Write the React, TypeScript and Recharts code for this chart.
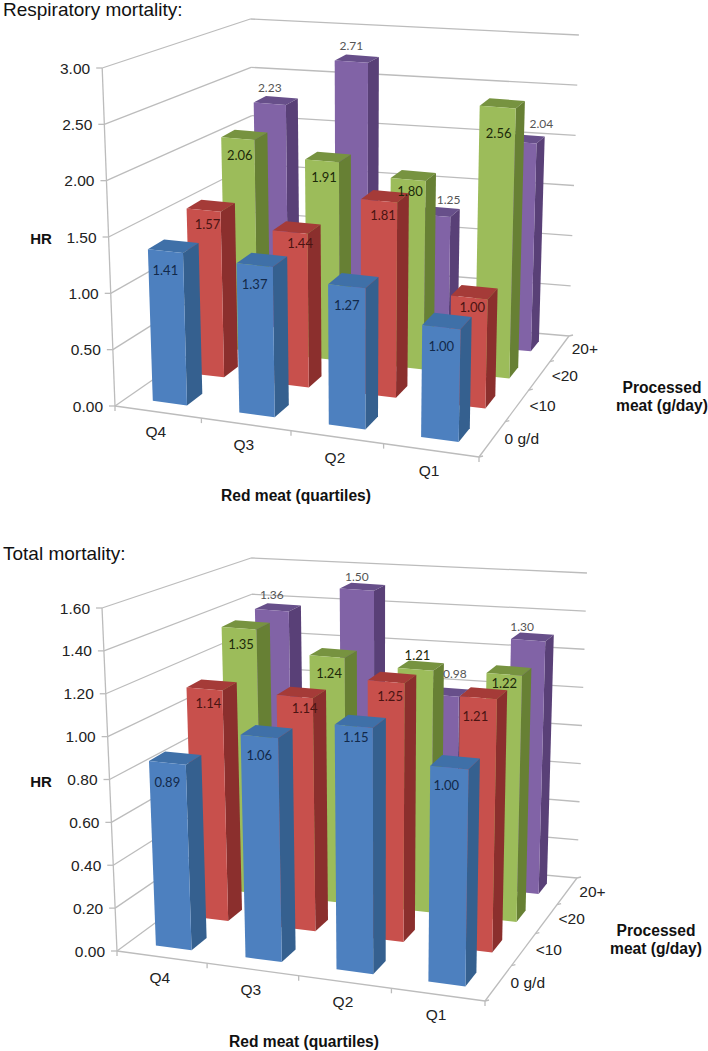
// Two pseudo-3D bar charts (HR by red and processed meat). Recharts supplies the scales,
// the Box shape then pushes each bar through a box projection to get the Excel-style look.
import { BarChart, Bar, XAxis, YAxis, Customized } from 'recharts'

type Pt = [number, number]

const FONT = '"Liberation Sans", Arial, sans-serif'
const LABEL_FONT = 'Lato, "Open Sans", sans-serif'
const WIDTH = 708
const BAR_U = 0.1
const BAR_V = 0.1
const GRID = '#bcbcbc'

const QUARTILES = ['Q4', 'Q3', 'Q2', 'Q1']
const PROCESSED = ['0 g/d', '<10', '<20', '20+']

const RESP_0 = [1.41, 1.37, 1.27, 1.0]
const RESP_10 = [1.57, 1.44, 1.81, 1.0]
const RESP_20 = [2.06, 1.91, 1.8, 2.56]
const RESP_20P = [2.23, 2.71, 1.25, 2.04]
const RESP_TICKS = [0, 0.5, 1, 1.5, 2, 2.5, 3]

const TOTAL_0 = [0.89, 1.06, 1.15, 1.0]
const TOTAL_10 = [1.14, 1.14, 1.25, 1.21]
const TOTAL_20 = [1.35, 1.24, 1.21, 1.22]
const TOTAL_20P = [1.36, 1.5, 0.98, 1.3]
const TOTAL_TICKS = [0, 0.2, 0.4, 0.6, 0.8, 1, 1.2, 1.4, 1.6]

// front, side, top, label colour per processed meat level
const SERIES_COLORS = [
  ['#4d80bf', '#35608f', '#3f70a8', '#12294a'],
  ['#c8504c', '#8b2f2d', '#a53b38', '#4a1412'],
  ['#9cbc5a', '#678034', '#779340', '#1d2a0a'],
  ['#8163a6', '#594077', '#674f8a', '#555555'],
]
const LABEL_OFFSET: Pt[] = [[0, 19], [4, 14], [2, 16], [0, -16]]

// maps the unit square onto a quad (front-left, front-right, back-right, back-left)
function quadMap(q: Pt[]) {
  const [[x0, y0], [x1, y1], [x2, y2], [x3, y3]] = q
  const dx1 = x1 - x2
  const dx2 = x3 - x2
  const dx3 = x0 - x1 + x2 - x3
  const dy1 = y1 - y2
  const dy2 = y3 - y2
  const dy3 = y0 - y1 + y2 - y3
  const det = dx1 * dy2 - dx2 * dy1
  const g = (dx3 * dy2 - dx2 * dy3) / det
  const h = (dx1 * dy3 - dx3 * dy1) / det
  const a = x1 - x0 + g * x1
  const b = x3 - x0 + h * x3
  const d = y1 - y0 + g * y1
  const e = y3 - y0 + h * y3
  return (u: number, v: number): Pt => {
    const k = g * u + h * v + 1
    return [(a * u + b * v + x0) / k, (d * u + e * v + y0) / k]
  }
}

// floor point + height, verticals lean towards a vanishing point below the chart
function makeProjection(floor: Pt[], heights: number[], leanX: number, lean: number, top: number) {
  const f = quadMap(floor.map(([x, y]) => [x, y - top] as Pt))
  const [fl, fr, br, bl] = heights
  return (u: number, v: number, w: number): Pt => {
    // the pure homography squeezes the left side too much, ease it a bit
    const [x, y] = f(u + 0.1 * u * (1 - u), v)
    const h = w * ((fl * (1 - u) + fr * u) * (1 - v) + (bl * (1 - u) + br * u) * v)
    return [x + (x - leanX) * lean * h, y - h]
  }
}

const poly = (pts: Pt[]) => pts.map((p) => p[0].toFixed(1) + ',' + p[1].toFixed(1)).join(' ')

interface PanelProps {
  title: string
  top: number
  height: number
  max: number
  ticks: number[]
  series: number[][]
  floor: Pt[]
  heights: number[]
  barHeights: number[]
  leanX: number
  lean: number
  titleY: number
  hrY: number
  xTitle: Pt
  zTitle: Pt
  nudge: Record<string, Pt>
}

function Panel(props: PanelProps) {
  const { title, top, height, max, ticks, series, floor, heights, barHeights, leanX, lean, nudge } = props
  const project = makeProjection(floor, heights, leanX, lean, top)
  const projectBar = makeProjection(floor, barHeights, leanX, lean, top)
  const rows = QUARTILES.map((q, i) => ({ q, s0: series[0][i], s1: series[1][i], s2: series[2][i], s3: series[3][i] }))

  // the axes take 1px each, otherwise recharts will not draw their ticks
  const toU = (x: number) => (x - 1) / (WIDTH - 1)
  const toW = (y: number) => 1 - y / (height - 1)
  const barPx = (WIDTH - 1) * BAR_U

  const Box = (p: any, s: number) => {
    const u0 = toU(p.x)
    const u1 = toU(p.x + p.width)
    const w = toW(p.y)
    const v0 = 0.075 + 0.25 * s
    const v1 = v0 + BAR_V
    const [front, side, cap] = SERIES_COLORS[s]
    const P = projectBar
    return (
      <g>
        <polygon points={poly([P(u0, v0, w), P(u1, v0, w), P(u1, v1, w), P(u0, v1, w)])} fill={cap} />
        <polygon points={poly([P(u1, v0, 0), P(u1, v1, 0), P(u1, v1, w), P(u1, v0, w)])} fill={side} />
        <polygon points={poly([P(u0, v0, 0), P(u1, v0, 0), P(u1, v0, w), P(u0, v0, w)])} fill={front} />
      </g>
    )
  }

  const ValueLabel = (p: any, s: number) => {
    const v0 = 0.075 + 0.25 * s
    const [x, y] = projectBar(toU(p.x + p.width / 2), v0, toW(p.y))
    const off = nudge[p.payload.q + '-' + s] || LABEL_OFFSET[s]
    return (
      <text x={x + off[0]} y={y + off[1]} textAnchor="middle" dominantBaseline="central"
        fontFamily={LABEL_FONT} fontSize={s === 3 ? 12 : 13} fill={SERIES_COLORS[s][3]}>
        {Number(p.value).toFixed(2)}
      </text>
    )
  }

  const YTick = (p: any) => {
    const [x, y] = project(0, 0, toW(p.y))
    return (
      <g>
        <line x1={x - 6} y1={y} x2={x} y2={y} stroke={GRID} strokeWidth={1.3} />
        <text x={x - 12} y={y} textAnchor="end" dominantBaseline="central" fontFamily={FONT} fontSize={15.5} fill="#222">
          {Number(p.payload.value).toFixed(2)}
        </text>
      </g>
    )
  }

  const XTick = (p: any) => {
    const [x, y] = project(toU(p.x), 0, 0)
    return (
      <text x={x - 2} y={y + 20} textAnchor="middle" dominantBaseline="central" fontFamily={FONT} fontSize={15.5} fill="#222">
        {p.payload.value}
      </text>
    )
  }

  const Walls = () => {
    const seg = (a: Pt, b: Pt, key: string) => (
      <line key={key} x1={a[0]} y1={a[1]} x2={b[0]} y2={b[1]} stroke={GRID} strokeWidth={1.3} />
    )
    return (
      <g>
        {ticks.map((t) => {
          const w = t / max
          return (
            <g key={t}>
              {seg(project(0, 0, w), project(0, 1, w), 'l')}
              {seg(project(0, 1, w), project(1, 1, w), 'b')}
            </g>
          )
        })}
        {seg(project(0, 0, 0), project(0, 0, 1), 'axis')}
        {seg(project(0, 0, 0), project(1, 0, 0), 'front')}
        {seg(project(1, 0, 0), project(1, 1, 0), 'right')}
        {[0, 0.25, 0.5, 0.75, 1].map((u) => {
          const a = project(u, 0, 0)
          return seg(a, [a[0], a[1] + 5], 'xt' + u)
        })}
        {[0, 0.25, 0.5, 0.75, 1].map((v) => {
          const a = project(1, v, 0)
          return seg(a, [a[0] + 4, a[1] - 1], 'zt' + v)
        })}
      </g>
    )
  }

  const Texts = () => (
    <g fill="#111" fontFamily={FONT}>
      <text x={3} y={props.titleY} fontSize={19}>{title}</text>
      <text x={41} y={props.hrY} fontSize={15} fontWeight="bold" textAnchor="middle" dominantBaseline="central">HR</text>
      <text x={props.xTitle[0]} y={props.xTitle[1]} fontSize={15.6} fontWeight="bold" textAnchor="middle" dominantBaseline="central">
        Red meat (quartiles)
      </text>
      <text x={props.zTitle[0]} y={props.zTitle[1]} fontSize={15.6} fontWeight="bold" textAnchor="middle" dominantBaseline="central">
        Processed
      </text>
      <text x={props.zTitle[0]} y={props.zTitle[1] + 18} fontSize={15.6} fontWeight="bold" textAnchor="middle" dominantBaseline="central">
        meat (g/day)
      </text>
      {PROCESSED.map((label, i) => {
        const [x, y] = project(1, 0.125 + 0.25 * i, 0)
        return (
          <text key={label} x={x + 12} y={y} fontSize={15.5} fill="#222" dominantBaseline="central">{label}</text>
        )
      })}
    </g>
  )

  return (
    <div style={{ position: 'absolute', left: 0, top }}>
      <BarChart width={WIDTH} height={height} data={rows} margin={{ top: 0, right: 0, bottom: 0, left: 0 }}
        barCategoryGap={0} barSize={barPx} barGap={-barPx}>
        <Customized component={Walls} />
        <XAxis dataKey="q" height={1} axisLine={false} tickLine={false} interval={0} tick={XTick} />
        <YAxis width={1} domain={[0, max]} ticks={ticks} axisLine={false} tickLine={false} interval={0} tick={YTick} />
        {[3, 2, 1, 0].map((s) => (
          <Bar key={s} dataKey={'s' + s} isAnimationActive={false} shape={(p: any) => Box(p, s)} />
        ))}
        {[3, 2, 1, 0].map((s) => (
          <Bar key={'label' + s} dataKey={'s' + s} isAnimationActive={false} shape={(p: any) => ValueLabel(p, s)} />
        ))}
        <Customized component={Texts} />
      </BarChart>
    </div>
  )
}

export default function App() {
  return (
    <div style={{ position: 'absolute', left: 0, top: 0, width: WIDTH, height: 1051 }}>
      <Panel
        title="Respiratory mortality:"
        top={0}
        height={510}
        max={3}
        ticks={RESP_TICKS}
        series={[RESP_0, RESP_10, RESP_20, RESP_20P]}
        floor={[[115, 406], [479, 457], [569, 336], [255, 309]]}
        heights={[338, 345, 301, 290]}
        barHeights={[323, 343, 298, 295]}
        leanX={358}
        lean={0.000156}
        titleY={16}
        hrY={238}
        xTitle={[296, 495]}
        zTitle={[662, 387]}
        nudge={{ 'Q1-1': [3, 9], 'Q2-2': [2, 11], 'Q3-1': [10, 11], 'Q1-2': [1, 26], 'Q1-3': [22, -19], 'Q2-3': [15, -16] }}
      />
      <Panel
        title="Total mortality:"
        top={520}
        height={531}
        max={1.6}
        ticks={TOTAL_TICKS}
        series={[TOTAL_0, TOTAL_10, TOTAL_20, TOTAL_20P]}
        floor={[[117, 951], [485, 1001], [577, 878], [257, 848]]}
        heights={[343, 350, 305, 290]}
        barHeights={[333, 352, 303, 295]}
        leanX={380}
        lean={0.000166}
        titleY={40}
        hrY={261}
        xTitle={[304, 521]}
        zTitle={[656, 410]}
        nudge={{
          'Q2-0': [2, 11], 'Q1-0': [-3, 17], 'Q1-1': [-3, 18], 'Q2-2': [2, -14], 'Q3-1': [10, 11],
          'Q1-2': [0, 9], 'Q1-3': [-6, -14], 'Q2-3': [13, -22], 'Q3-3': [0, -13],
        }}
      />
    </div>
  )
}
